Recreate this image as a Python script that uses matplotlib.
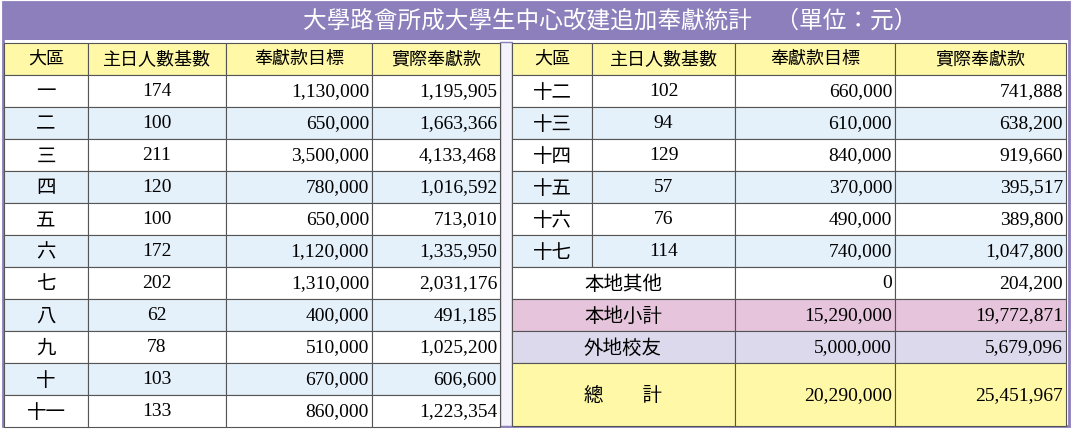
import matplotlib
matplotlib.use("Agg")
import matplotlib.pyplot as plt
from matplotlib.patches import Rectangle

left_region = ["一","二","三","四","五","六","七","八","九","十","十一"]
left_base = [174,100,211,120,100,172,202,62,78,103,133]
left_target = [1130000,650000,3500000,780000,650000,1120000,1310000,400000,510000,670000,860000]
left_actual = [1195905,1663366,4133468,1016592,713010,1335950,2031176,491185,1025200,606600,1223354]
right_region = ["十二","十三","十四","十五","十六","十七"]
right_base = [102,94,129,57,76,114]
right_target = [660000,610000,840000,370000,490000,740000]
right_actual = [741888,638200,919660,395517,389800,1047800]
sum_labels = ["本地其他","本地小計","外地校友","總　　計"]
sum_target = [0,15290000,5000000,20290000]
sum_actual = [204200,19772871,5679096,25451967]
headers = ["大區","主日人數基數","奉獻款目標","實際奉獻款"]
title = "大學路會所成大學生中心改建追加奉獻統計　（單位：元）"

CJK = ["Noto Sans CJK TC","Noto Sans CJK JP","Noto Sans CJK SC","Noto Sans CJK KR"]
SER = "Liberation Serif"
fig = plt.figure(figsize=(10.75,4.29), dpi=100)
ax = fig.add_axes([0,0,1,1]); ax.set_xlim(0,1075); ax.set_ylim(429,0); ax.axis("off")
PUR="#8C7FBC"; YEL="#FFF8A6"; BLU="#E4F0FA"; PINK="#E6C4DC"; LAV="#DCD9EC"; LINE="#555555"
def cell(x0,x1,y0,y1,fc,lw=0.8):
    ax.add_patch(Rectangle((x0,y0),x1-x0,y1-y0,facecolor=fc,edgecolor=LINE,lw=lw))
def fmt(v): return f"{v:,}"
ax.add_patch(Rectangle((0,0),1075,429,facecolor="white",edgecolor="none"))
ax.add_patch(Rectangle((3,2),1066,424,facecolor="none",edgecolor=PUR,lw=2))
ax.add_patch(Rectangle((3,2),1066,38,facecolor=PUR,edgecolor="none"))
ax.text(610,21,title,color="white",fontsize=17,fontfamily=CJK,ha="center",va="center")
ax.add_patch(Rectangle((500,42),12,384,facecolor="#F4F2FA",edgecolor=PUR,lw=1))
H=32; y0=43
LX=[4,88,226,372,500]; RX=[512,592,735,895,1066]
for X in (LX,RX):
    for i,h in enumerate(headers):
        cell(X[i],X[i+1],y0,y0+32,YEL)
        ax.text((X[i]+X[i+1])/2,y0+16,h,fontsize=13,fontfamily=CJK,ha="center",va="center")
top=75
def row(X,y,fc,name,b,t,a):
    for i in range(4): cell(X[i],X[i+1],y,y+H,fc)
    cy=y+H/2+1
    ax.text((X[0]+X[1])/2,cy,name,fontsize=14,fontfamily=CJK,ha="center",va="center")
    ax.text((X[1]+X[2])/2,cy,str(b),fontsize=14,fontfamily=SER,ha="center",va="center")
    ax.text(X[3]-3,cy,fmt(t),fontsize=14,fontfamily=SER,ha="right",va="center")
    ax.text(X[4]-3,cy,fmt(a),fontsize=14,fontfamily=SER,ha="right",va="center")
for i in range(len(left_region)):
    row(LX,top+i*H,BLU if i%2 else "white",left_region[i],left_base[i],left_target[i],left_actual[i])
for i in range(len(right_region)):
    row(RX,top+i*H,BLU if i%2 else "white",right_region[i],right_base[i],right_target[i],right_actual[i])
fcs=["white",PINK,LAV,YEL]
y=top+len(right_region)*H
for i,lab in enumerate(sum_labels):
    h=H if i<3 else 426-y
    cell(RX[0],RX[2],y,y+h,fcs[i]); cell(RX[2],RX[3],y,y+h,fcs[i]); cell(RX[3],RX[4],y,y+h,fcs[i])
    cy=y+h/2+1
    ax.text(623,cy,lab,fontsize=14,fontfamily=CJK,ha="center",va="center")
    ax.text(RX[3]-3,cy,fmt(sum_target[i]),fontsize=14,fontfamily=SER,ha="right",va="center")
    ax.text(RX[4]-3,cy,fmt(sum_actual[i]),fontsize=14,fontfamily=SER,ha="right",va="center")
    y+=h
fig.savefig("out.png",dpi=100)
